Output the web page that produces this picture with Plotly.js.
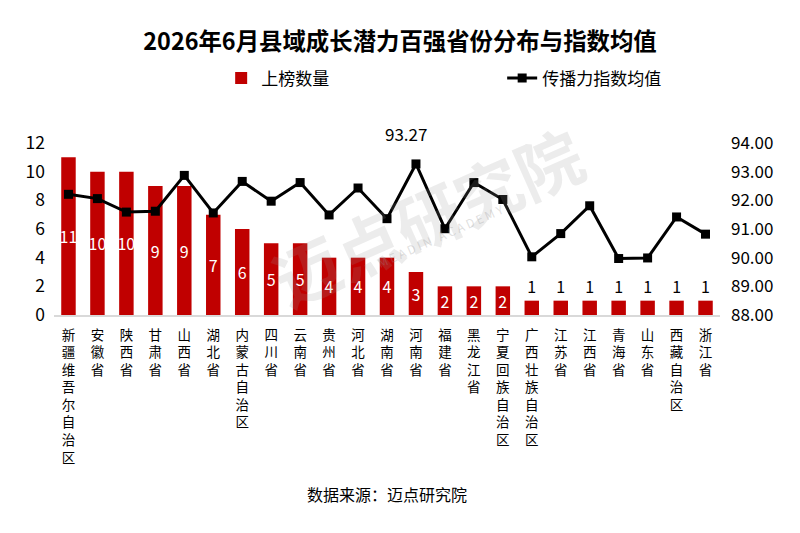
<!DOCTYPE html>
<html>
<head>
<meta charset="utf-8">
<script src="https://cdn.plot.ly/plotly-3.0.1.min.js"></script>
<style>html,body{margin:0;padding:0;background:#fff;}#chart{width:800px;height:533px;}</style>
</head>
<body>
<div id="chart"></div>
<script>
const provinces = ["新疆维吾尔自治区","安徽省","陕西省","甘肃省","山西省","湖北省","内蒙古自治区","四川省","云南省","贵州省","河北省","湖南省","河南省","福建省","黑龙江省","宁夏回族自治区","广西壮族自治区","江苏省","江西省","青海省","山东省","西藏自治区","浙江省"];
const counts = [11,10,10,9,9,7,6,5,5,4,4,4,3,2,2,2,1,1,1,1,1,1,1];
const indexAvg = [92.21,92.06,91.59,91.62,92.87,91.56,92.66,91.97,92.62,91.49,92.43,91.36,93.27,91.01,92.62,92.03,90.03,90.84,91.81,89.97,89.99,91.42,90.82];
const leftTicks = [0,2,4,6,8,10,12];
const rightTicks = [88,89,90,91,92,93,94];

const FONT = '"Noto Sans CJK SC", "Noto Sans", sans-serif';
const vertLabels = provinces.map(p => Array.from(p).join('<br>'));
const maxIdx = indexAvg.indexOf(Math.max(...indexAvg));

const bars = {
  type: 'bar', name: '上榜数量', x: provinces, y: counts,
  marker: {color: '#C00000'}, width: 0.5,
  text: counts.map(String),
  textposition: counts.map(v => v > 1 ? 'inside' : 'outside'),
  insidetextanchor: 'middle',
  constraintext: 'none',
  insidetextfont: {color: '#ffffff', size: 16, family: FONT},
  outsidetextfont: {color: '#000000', size: 16, family: FONT},
  cliponaxis: false,
  hoverinfo: 'x+y'
};
const line = {
  type: 'scatter', mode: 'lines+markers', name: '传播力指数均值',
  x: provinces, y: indexAvg, yaxis: 'y2',
  line: {color: '#000000', width: 3},
  marker: {symbol: 'square', size: 9, color: '#000000'},
  cliponaxis: false
};

const layout = {
  width: 800, height: 533,
  margin: {l: 53.5, r: 79.5, t: 142.7, b: 218, autoexpand: false},
  paper_bgcolor: '#ffffff', plot_bgcolor: 'rgba(0,0,0,0)',
  font: {family: FONT, color: '#000000'},
  title: {text: '<b>2026年6月县域成长潜力百强省份分布与指数均值</b>', x: 0.5, xref: 'container', xanchor: 'center',
          y: 0.921, yref: 'container', yanchor: 'middle',
          font: {size: 23.4, family: FONT, color: '#000000'}},
  showlegend: true,
  legend: {orientation: 'h', x: 0.251, xanchor: 'left', y: 1.375, yanchor: 'middle',
           font: {size: 17, family: FONT}, entrywidth: 236, entrywidthmode: 'pixels', traceorder: 'normal'},
  bargap: 0.5,
  xaxis: {
    range: [-0.5, provinces.length - 0.5],
    tickmode: 'array', tickvals: provinces, ticktext: vertLabels, tickangle: 0,
    tickfont: {size: 13.5, family: FONT, color: '#000000'}, ticklabelstandoff: 7,
    showline: true, linecolor: '#d9d9d9', linewidth: 1.5, ticks: '', showgrid: false,
    automargin: false, fixedrange: true
  },
  yaxis: {
    range: [0, 12], tickmode: 'array', tickvals: leftTicks, showgrid: false, zeroline: false,
    tickfont: {size: 17.5, family: FONT, color: '#000000'}, ticks: '', automargin: false, ticklabelstandoff: 8
  },
  yaxis2: {
    range: [88, 94], overlaying: 'y', side: 'right', tickmode: 'array', tickvals: rightTicks,
    tickformat: '.2f', showgrid: false, zeroline: false,
    tickfont: {size: 17, family: FONT, color: '#000000'}, ticks: '', automargin: false, ticklabelstandoff: 10
  },
  annotations: [
    {x: provinces[maxIdx], y: indexAvg[maxIdx], xref: 'x', yref: 'y2', text: indexAvg[maxIdx].toFixed(2),
     showarrow: false, yshift: 30, xshift: -10, font: {size: 17, family: FONT, color: '#000000'}},
    {x: 0.5, y: -1.12, xref: 'paper', yref: 'paper', text: '数据来源：迈点研究院', showarrow: false,
     font: {size: 16, family: FONT, color: '#000000'}},
    {x: 0.56, y: 0.58, xref: 'paper', yref: 'paper', text: '<b>迈点研究院</b>', showarrow: false, textangle: -24,
     font: {size: 66, family: FONT, color: 'rgba(150,150,150,0.18)'}},
    {x: 0.58, y: 0.24, xref: 'paper', yref: 'paper', text: 'M E A D I N   A C A D E M Y', showarrow: false, textangle: -24,
     font: {size: 12, family: FONT, color: 'rgba(150,150,150,0.3)'}}
  ]
};

Plotly.newPlot('chart', [bars, line], layout, {displayModeBar: false, staticPlot: true});
</script>
</body>
</html>
